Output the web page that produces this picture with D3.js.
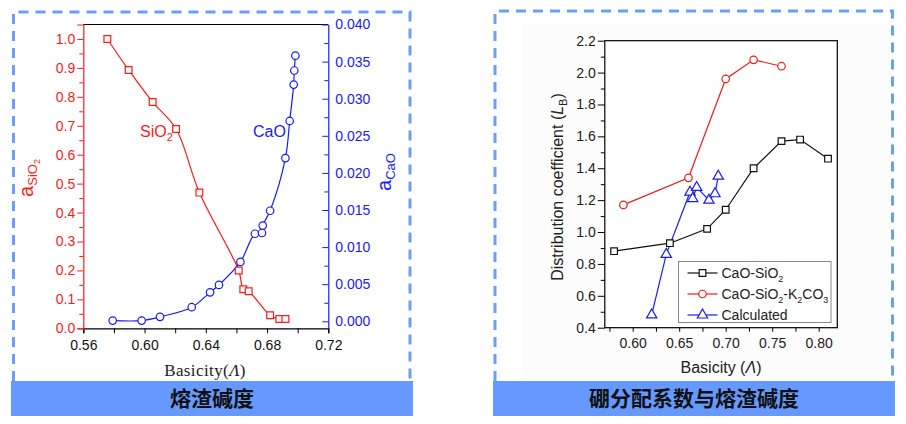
<!DOCTYPE html>
<html>
<head>
<meta charset="utf-8">
<script src="https://cdn.jsdelivr.net/npm/d3@7"></script>
<style>
  body { margin: 0; background: #fff; }
  svg { display: block; }
  text { font-family: "Liberation Sans", Arial, sans-serif; }
</style>
</head>
<body>
<div id="chart"></div>
<script>
// left chart: activities vs basicity
var sioX = [0.5757, 0.5896, 0.6053, 0.6206, 0.6358, 0.6615, 0.6645, 0.668, 0.682, 0.688, 0.692];
var sioY = [1.0, 0.893, 0.782, 0.689, 0.469, 0.200, 0.135, 0.128, 0.045, 0.032, 0.032];
var caoX = [0.5792, 0.5981, 0.6101, 0.6308, 0.6428, 0.6486, 0.6626, 0.6721, 0.6767, 0.6772, 0.682, 0.692, 0.6948, 0.6974, 0.6978, 0.6985];
var caoY = [0.0001, 0.0001, 0.0006, 0.0019, 0.0039, 0.0049, 0.0080, 0.0118, 0.0119, 0.0129, 0.0149, 0.0220, 0.0270, 0.0319, 0.0338, 0.0358];
var leftXTicks = [0.56, 0.58, 0.60, 0.62, 0.64, 0.66, 0.68, 0.70, 0.72];
var leftYTicks = [0, 0.1, 0.2, 0.3, 0.4, 0.5, 0.6, 0.7, 0.8, 0.9, 1.0];
var rightAxisTicks = [0, 0.005, 0.01, 0.015, 0.02, 0.025, 0.03, 0.035, 0.04];

// right chart: distribution coefficient vs basicity
var seriesNames = ["CaO-SiO2", "CaO-SiO2-K2CO3", "Calculated"];
var csX = [0.58, 0.64, 0.68, 0.70, 0.73, 0.76, 0.78, 0.81];
var csY = [0.88, 0.93, 1.02, 1.14, 1.40, 1.57, 1.58, 1.46];
var cskX = [0.59, 0.66, 0.70, 0.73, 0.76];
var cskY = [1.17, 1.34, 1.96, 2.08, 2.04];
var calcX = [0.6204, 0.6361, 0.6616, 0.6645, 0.6688, 0.682, 0.6885, 0.692];
var calcY = [0.48, 0.86, 1.25, 1.21, 1.28, 1.20, 1.24, 1.35];
var lbXTicks = [0.575, 0.60, 0.625, 0.65, 0.675, 0.70, 0.725, 0.75, 0.775, 0.80];
var lbYTicks = [0.4, 0.6, 0.8, 1.0, 1.2, 1.4, 1.6, 1.8, 2.0, 2.2];

var titles = ["熔渣碱度", "硼分配系数与熔渣碱度"];

var RED = "#ff1a1a", BLUE = "#1a1aff", BANNER = "#6699ff", DASH = "#6d9ef7";

var svg = d3.select("#chart").append("svg")
  .attr("width", 906)
  .attr("height", 424);

function zip(xs, ys) {
  return xs.map(function (x, i) { return [x, ys[i]]; });
}

// text with subscripts: parts = [[string, isSub], ...]
function richText(sel, parts, subSize) {
  var prevSub = false;
  parts.forEach(function (p) {
    var t = sel.append("tspan").text(p[0]);
    if (p[1] && !prevSub) t.attr("dy", 4).attr("font-size", subSize);
    else if (p[1]) t.attr("font-size", subSize);
    else if (prevSub) t.attr("dy", -4);
    prevSub = p[1];
  });
  return sel;
}

function marker(g, pts, x, y, type, size, color) {
  g.selectAll(null).data(pts).enter().append("path")
    .attr("transform", function (d) { return "translate(" + x(d[0]) + "," + y(d[1]) + ")"; })
    .attr("d", d3.symbol().type(type).size(size))
    .attr("fill", "#fff")
    .attr("stroke", color)
    .attr("stroke-width", 1.2);
}

function panelFrame(x0, x1, top, bottom, bannerX0, bannerX1, title) {
  svg.append("path")
    .attr("d", "M" + x0 + "," + bottom + "V" + top + "H" + x1 + "V" + bottom)
    .attr("fill", "none")
    .attr("stroke", DASH)
    .attr("stroke-width", 3)
    .attr("stroke-dasharray", "10,7");
  svg.append("rect")
    .attr("x", bannerX0).attr("y", 381)
    .attr("width", bannerX1 - bannerX0).attr("height", 35)
    .attr("fill", BANNER);
  svg.append("text")
    .attr("x", (bannerX0 + bannerX1) / 2).attr("y", 406)
    .attr("text-anchor", "middle")
    .style("font-family", "'Noto Sans CJK SC', sans-serif")
    .attr("font-weight", "bold")
    .attr("font-size", 21)
    .attr("fill", "#111")
    .text(title);
}

/* ---------- left panel ---------- */
panelFrame(13.5, 410, 12, 381, 11, 413, titles[0]);

var xL = d3.scaleLinear().domain([0.56, 0.72]).range([83.3, 328.3]);
var yL = d3.scaleLinear().domain([0, 1.05]).range([328.3, 24.5]);
var yR = d3.scaleLinear().domain([-0.000943, 0.04]).range([328.3, 24.5]);

var gl = svg.append("g");

gl.append("line").attr("x1", xL(0.56)).attr("x2", xL(0.72))
  .attr("y1", 24.5).attr("y2", 24.5).attr("stroke", "#000").attr("stroke-width", 1.2);

// bottom axis
var bx = gl.append("g").attr("transform", "translate(0," + yL(0) + ")")
  .call(d3.axisBottom(xL).tickValues(leftXTicks).tickSizeOuter(0).tickSize(5).tickPadding(7)
    .tickFormat(function (d, i) { return i % 2 === 0 ? d3.format(".2f")(d) : ""; }));
bx.select(".domain").attr("stroke", "#000").attr("stroke-width", 1.2);
bx.selectAll("text").attr("font-size", 14).attr("fill", "#111")
  .style("font-family", "'Liberation Sans', Arial, sans-serif");

// left axis (red)
var minorL = d3.range(0.05, 1.0, 0.1);
gl.append("g").attr("transform", "translate(" + xL(0.56) + ",0)")
  .call(d3.axisLeft(yL).tickValues(minorL).tickSize(4).tickFormat(""))
  .call(function (g) { g.select(".domain").remove(); g.selectAll("line").attr("stroke", RED); });
var ly = gl.append("g").attr("transform", "translate(" + xL(0.56) + ",0)")
  .call(d3.axisLeft(yL).tickValues(leftYTicks).tickSizeOuter(0).tickSize(6).tickPadding(2)
    .tickFormat(d3.format(".1f")));
ly.select(".domain").attr("stroke", RED).attr("stroke-width", 1.2);
ly.selectAll("line").attr("stroke", RED);
ly.selectAll("text").attr("font-size", 14).attr("fill", RED)
  .style("font-family", "'Liberation Sans', Arial, sans-serif");

// right axis (blue), ticks inward
var minorR = d3.range(0.0025, 0.04, 0.005);
gl.append("g").attr("transform", "translate(" + xL(0.72) + ",0)")
  .call(d3.axisRight(yR).tickValues(minorR).tickSizeInner(-4).tickSizeOuter(0).tickFormat(""))
  .call(function (g) { g.select(".domain").remove(); g.selectAll("line").attr("stroke", BLUE); });
var ry = gl.append("g").attr("transform", "translate(" + xL(0.72) + ",0)")
  .call(d3.axisRight(yR).tickValues(rightAxisTicks).tickSizeInner(-6).tickSizeOuter(0).tickPadding(7)
    .tickFormat(d3.format(".3f")));
ry.select(".domain").attr("stroke", BLUE).attr("stroke-width", 1.2);
ry.selectAll("line").attr("stroke", BLUE);
ry.selectAll("text").attr("font-size", 14).attr("fill", BLUE)
  .style("font-family", "'Liberation Sans', Arial, sans-serif");

// curves
var sioPts = zip(sioX, sioY), caoPts = zip(caoX, caoY);
gl.append("path").datum(sioPts)
  .attr("d", d3.line().x(function (d) { return xL(d[0]); }).y(function (d) { return yL(d[1]); })
    .curve(d3.curveCatmullRom.alpha(0.5)))
  .attr("fill", "none").attr("stroke", RED).attr("stroke-width", 1.2);
gl.append("path").datum(caoPts)
  .attr("d", d3.line().x(function (d) { return xL(d[0]); }).y(function (d) { return yR(d[1]); })
    .curve(d3.curveCatmullRom.alpha(0.5)))
  .attr("fill", "none").attr("stroke", BLUE).attr("stroke-width", 1.2);
marker(gl, sioPts, xL, yL, d3.symbolSquare, 46, RED);
marker(gl, caoPts, xL, yR, d3.symbolCircle, 44, BLUE);

// labels
richText(gl.append("text").attr("x", 140).attr("y", 137).attr("font-size", 16).attr("fill", RED),
  [["SiO", false], ["2", true]], 11);
gl.append("text").attr("x", 253).attr("y", 137).attr("font-size", 16).attr("fill", BLUE).text("CaO");

richText(gl.append("text").attr("transform", "translate(33,178) rotate(-90)")
  .attr("text-anchor", "middle").attr("font-size", 20).attr("fill", RED),
  [["a", false], ["SiO", true]], 13)
  .append("tspan").attr("dy", 3).attr("font-size", 9).text("2");
richText(gl.append("text").attr("transform", "translate(391,172) rotate(-90)")
  .attr("text-anchor", "middle").attr("font-size", 20).attr("fill", BLUE),
  [["a", false], ["CaO", true]], 13);

var xlab = gl.append("text").attr("x", 205).attr("y", 376).attr("text-anchor", "middle")
  .style("font-family", "'Liberation Serif', 'Times New Roman', serif")
  .attr("font-size", 17).attr("letter-spacing", 0.4).attr("fill", "#222");
xlab.append("tspan").text("Basicity(");
xlab.append("tspan").attr("font-style", "italic").text("Λ");
xlab.append("tspan").text(")");

/* ---------- right panel ---------- */
svg.append("rect").attr("x", 522).attr("y", 24).attr("width", 368).attr("height", 356).attr("fill", "#fcfcfc");
panelFrame(495, 892.5, 11, 381, 493, 895, titles[1]);

var xB = d3.scaleLinear().domain([0.57, 0.82]).range([604.8, 837.3]);
var yB = d3.scaleLinear().domain([0.4, 2.2]).range([327.7, 40.7]);

var gr = svg.append("g");
gr.append("rect").attr("x", xB(0.57)).attr("y", yB(2.2))
  .attr("width", xB(0.82) - xB(0.57)).attr("height", yB(0.4) - yB(2.2))
  .attr("fill", "#fff").attr("stroke", "#000").attr("stroke-width", 1.2);

var bxr = gr.append("g").attr("transform", "translate(0," + yB(0.4) + ")")
  .call(d3.axisBottom(xB).tickValues(lbXTicks).tickSizeOuter(0).tickSize(4).tickPadding(6)
    .tickFormat(function (d) { return Math.round(d * 1000) % 50 === 0 ? d3.format(".2f")(d) : ""; }));
bxr.select(".domain").remove();
bxr.selectAll("text").attr("font-size", 14).attr("fill", "#222")
  .style("font-family", "'Liberation Sans', Arial, sans-serif");

gr.append("g").attr("transform", "translate(" + xB(0.57) + ",0)")
  .call(d3.axisLeft(yB).tickValues(d3.range(0.5, 2.2, 0.2)).tickSize(4).tickFormat(""))
  .call(function (g) { g.select(".domain").remove(); });
var lyr = gr.append("g").attr("transform", "translate(" + xB(0.57) + ",0)")
  .call(d3.axisLeft(yB).tickValues(lbYTicks).tickSizeOuter(0).tickSize(7).tickPadding(2)
    .tickFormat(d3.format(".1f")));
lyr.select(".domain").remove();
lyr.selectAll("text").attr("font-size", 14).attr("fill", "#222")
  .style("font-family", "'Liberation Sans', Arial, sans-serif");

var lineB = d3.line().x(function (d) { return xB(d[0]); }).y(function (d) { return yB(d[1]); });
var series = [
  { pts: zip(csX, csY), color: "#111", type: d3.symbolSquare, size: 44 },
  { pts: zip(cskX, cskY), color: "#ee1c1c", type: d3.symbolCircle, size: 44 },
  { pts: zip(calcX, calcY), color: BLUE, type: d3.symbolTriangle, size: 46 }
];
series.forEach(function (s) {
  gr.append("path").datum(s.pts).attr("d", lineB)
    .attr("fill", "none").attr("stroke", s.color).attr("stroke-width", 1.2);
});
series.forEach(function (s) {
  marker(gr, s.pts, xB, yB, s.type, s.size, s.color);
});

// legend
var lg = gr.append("g").attr("transform", "translate(678.5,261.5)");
lg.append("rect").attr("width", 152.5).attr("height", 61)
  .attr("fill", "#fff").attr("stroke", "#888").attr("stroke-width", 1);
var legendParts = [
  [["CaO-SiO", false], ["2", true]],
  [["CaO-SiO", false], ["2", true], ["-K", false], ["2", true], ["CO", false], ["3", true]],
  [["Calculated", false]]
];
series.forEach(function (s, i) {
  var cy = 11.5 + i * 21;
  lg.append("line").attr("x1", 9).attr("x2", 39).attr("y1", cy).attr("y2", cy)
    .attr("stroke", s.color).attr("stroke-width", 1.2);
  lg.append("path").attr("transform", "translate(24," + cy + ")")
    .attr("d", d3.symbol().type(s.type).size(s.size))
    .attr("fill", "#fff").attr("stroke", s.color).attr("stroke-width", 1.2);
  richText(lg.append("text").attr("x", 43).attr("y", cy + 5).attr("font-size", 14).attr("fill", "#222")
    .attr("data-name", seriesNames[i]), legendParts[i], 9);
});

var ylb = gr.append("text").attr("transform", "translate(563,187) rotate(-90)")
  .attr("text-anchor", "middle").attr("font-size", 16).attr("fill", "#222");
ylb.append("tspan").text("Distribution coefficient (");
ylb.append("tspan").attr("font-style", "italic").text("L");
ylb.append("tspan").attr("dy", 4).attr("font-size", 11).text("B");
ylb.append("tspan").attr("dy", -4).text(")");

var xlb = gr.append("text").attr("x", 721).attr("y", 373).attr("text-anchor", "middle")
  .attr("font-size", 16).attr("fill", "#222");
xlb.append("tspan").text("Basicity (");
xlb.append("tspan").attr("font-style", "italic").text("Λ");
xlb.append("tspan").text(")");
</script>
</body>
</html>
